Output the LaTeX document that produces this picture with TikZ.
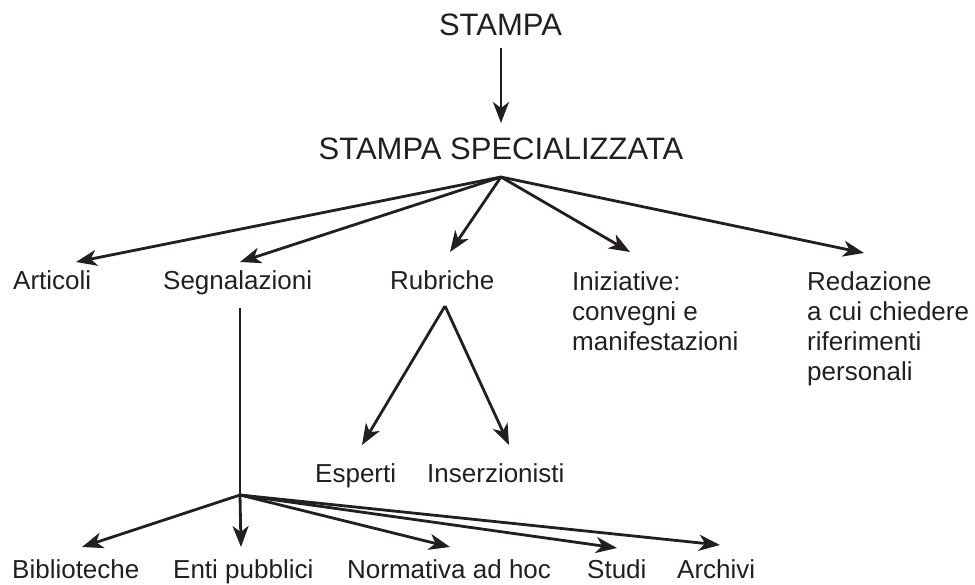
\documentclass[tikz,border=0pt]{standalone}
\usepackage{fontspec}
\setmainfont{Liberation Sans}
\usetikzlibrary{arrows.meta}
\definecolor{ink}{HTML}{231F20}
\begin{document}
\begin{tikzpicture}[x=1pt,y=-1pt,
  lbl/.style={inner sep=0pt, anchor=base west, text=ink, font=\fontsize{26}{30.3}\selectfont, align=left},
  mlbl/.style={lbl, anchor=north west},
  hdr/.style={inner sep=0pt, anchor=base, text=ink, font=\fontsize{31}{36}\selectfont},
  conn/.style={draw=ink, line width=2.8pt, -{Stealth[length=21pt,width=16pt,inset=6pt]}},
  seg/.style={draw=ink, line width=2.8pt}]
\useasboundingbox (0,0) rectangle (975,584);
% headers
\node[hdr] (stampa) at (500.5,35) {STAMPA};
\node[hdr] (spec) at (501,159) {STAMPA SPECIALIZZATA};
% level 1 labels
\node[lbl] (art) at (13,289) {Articoli};
\node[lbl] (segn) at (163,289) {Segnalazioni};
\node[lbl] (rub) at (390,289) {Rubriche};
\node[mlbl] (iniz) at (572,271) {Iniziative:\\convegni e\\manifestazioni};
\node[mlbl] (red) at (807,271) {Redazione\\a cui chiedere\\riferimenti\\personali};
% rubriche children
\node[lbl] (esp) at (315,482) {Esperti};
\node[lbl] (ins) at (427,482) {Inserzionisti};
% bottom labels
\node[lbl] (bib) at (12,578) {Biblioteche};
\node[lbl] (enti) at (173,578) {Enti pubblici};
\node[lbl] (norm) at (347,578) {Normativa ad hoc};
\node[lbl] (stud) at (587,578) {Studi};
\node[lbl] (arch) at (677,578) {Archivi};
% coordinates
\coordinate (s0) at (501,48);
\coordinate (s1) at (501,123);
\coordinate (hub) at (501,177);
\coordinate (tart) at (76,262);
\coordinate (tsegn) at (240,262);
\coordinate (trub) at (450,252);
\coordinate (tiniz) at (630,252);
\coordinate (tred) at (864,253);
\coordinate (rv) at (445,306);
\coordinate (tesp) at (362,445);
\coordinate (tins) at (509,445);
\coordinate (sv) at (240,308);
\coordinate (bhub) at (240,495);
\coordinate (tbib) at (82,547);
\coordinate (tenti) at (241,547);
\coordinate (tnorm) at (450,547);
\coordinate (tstud) at (617,548);
\coordinate (tarch) at (720,545);
% connectors
\draw[conn] (s0) -- (s1);
\draw[conn] (hub) -- (tart);
\draw[conn] (hub) -- (tsegn);
\draw[conn] (hub) -- (trub);
\draw[conn] (hub) -- (tiniz);
\draw[conn] (hub) -- (tred);
\draw[conn] (rv) -- (tesp);
\draw[conn] (rv) -- (tins);
\draw[seg] (sv) -- (bhub);
\draw[conn] (bhub) -- (tbib);
\draw[conn] (bhub) -- (tenti);
\draw[conn] (bhub) -- (tnorm);
\draw[conn] (bhub) -- (tstud);
\draw[conn] (bhub) -- (tarch);
\end{tikzpicture}
\end{document}
